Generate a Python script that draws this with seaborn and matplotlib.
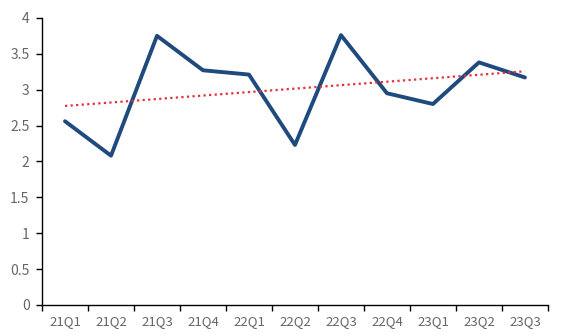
import numpy as np
import pandas as pd
import matplotlib
matplotlib.use("Agg")
import matplotlib.pyplot as plt
import seaborn as sns
from matplotlib.ticker import FixedLocator, MultipleLocator

quarters = ["21Q1", "21Q2", "21Q3", "21Q4", "22Q1", "22Q2",
            "22Q3", "22Q4", "23Q1", "23Q2", "23Q3"]
values = [2.56, 2.08, 3.75, 3.27, 3.21, 2.23, 3.76, 2.95, 2.80, 3.38, 3.17]

df = pd.DataFrame({"idx": np.arange(len(quarters)), "quarter": quarters, "value": values})

sns.set_style("white")
plt.rcParams["font.family"] = ["Noto Sans CJK SC", "DejaVu Sans"]

fig = plt.figure(figsize=(5.64, 3.35), dpi=100)
ax = fig.add_axes([0.0745, 0.0896, 0.897, 0.857])

sns.lineplot(data=df, x="idx", y="value", color="#1F4A7D", linewidth=2.8, ax=ax)
# linear trend line over the series
sns.regplot(data=df, x="idx", y="value", scatter=False, ci=None, ax=ax,
            line_kws={"color": "#E3303A", "linestyle": (0, (1, 1.5)), "linewidth": 1.6})

ax.set_xlim(-0.5, len(quarters) - 0.5)
ax.set_ylim(0, 4)
ax.yaxis.set_major_locator(MultipleLocator(0.5))
ax.set_yticklabels([f"{t:g}" for t in ax.get_yticks()])
ax.set_xticks(df["idx"])
ax.set_xticklabels(quarters)
ax.xaxis.set_minor_locator(FixedLocator(np.arange(-0.5, len(quarters), 1.0)))
ax.tick_params(axis="x", which="major", length=0, pad=7, labelsize=9.5, labelcolor="#666666")
ax.tick_params(axis="x", which="minor", length=4, width=1, color="black", direction="out", bottom=True)
ax.tick_params(axis="y", length=4, width=1, color="black", direction="out", left=True,
               labelsize=10, labelcolor="#666666", pad=5)
ax.set_xlabel("")
ax.set_ylabel("")
for side in ["top", "right"]:
    ax.spines[side].set_visible(False)
for side in ["left", "bottom"]:
    ax.spines[side].set_color("black")
    ax.spines[side].set_linewidth(1)

fig.savefig("out.png", dpi=100)
plt.close(fig)
